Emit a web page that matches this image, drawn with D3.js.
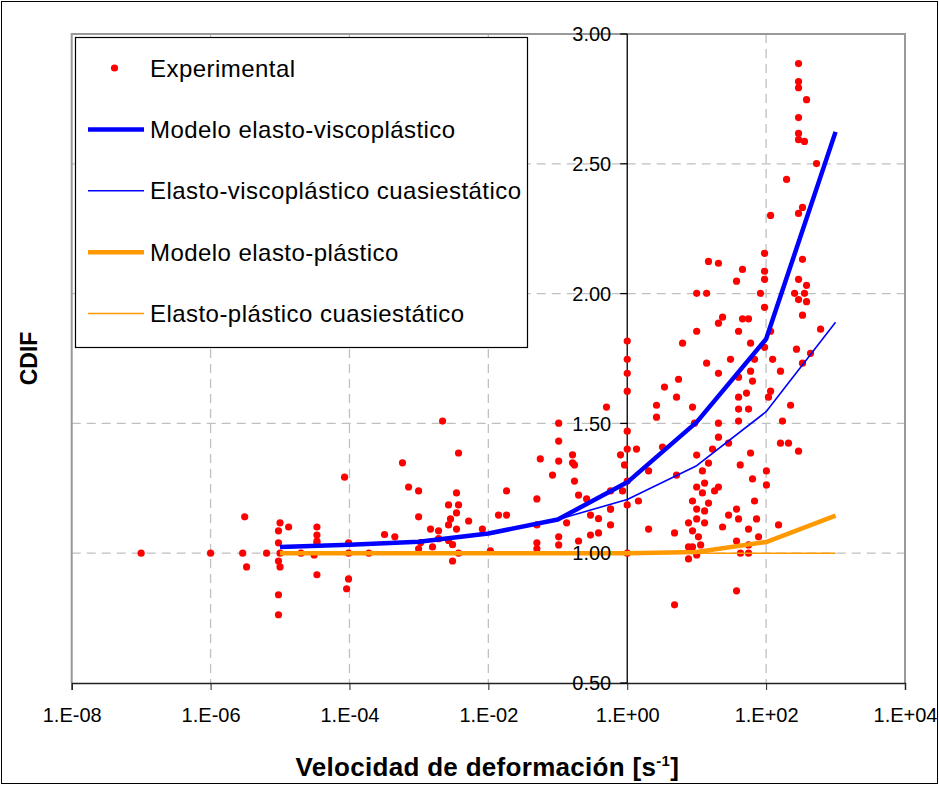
<!DOCTYPE html>
<html>
<head>
<meta charset="utf-8">
<script src="https://cdn.jsdelivr.net/npm/d3@7"></script>
<style>
  body { margin:0; background:#fff; }
  text { font-family:"Liberation Sans", Arial, sans-serif; }
</style>
</head>
<body>
<script>

// experimental points: strain rate [1/s] and CDIF
var expRate = [
  1e-7, 1e-6, 3.1e-6, 2.9e-6, 3.3e-6, 6.4e-6, 1.0e-5, 1.33e-5, 9.5e-6, 9.5e-6,
  1.0e-5, 9.5e-6, 1.0e-5, 9.5e-6, 9.5e-6, 2.0e-5, 3.4e-5, 3.4e-5, 3.4e-5, 3.4e-5,
  3.1e-5, 3.4e-5, 8.5e-5, 9.7e-5, 9.7e-5, 9.7e-5, 9.1e-5, 1.9e-4, 3.2e-4, 4.5e-4,
  5.8e-4, 7.1e-4, 9.9e-4, 9.9e-4, 9.9e-4, 1.06e-3, 1.47e-3, 1.57e-3, 1.92e-3, 1.92e-3,
  2.19e-3, 2.67e-3, 2.85e-3, 2.67e-3, 2.67e-3, 3.05e-3, 3.05e-3, 3.48e-3, 3.48e-3, 3.72e-3,
  3.48e-3, 3.72e-3, 3.72e-3, 5.2e-3, 8.2e-3, 1.07e-2, 1.40e-2, 1.83e-2, 1.83e-2, 5.0e-2,
  5.0e-2, 5.0e-2, 5.0e-2, 5.6e-2, 8.4e-2, 0.103, 0.103, 0.103, 0.103, 0.103,
  0.134, 0.163, 0.163, 0.174, 0.174, 0.199, 0.199, 0.26, 0.296, 0.296,
  0.386, 0.386, 0.503, 0.575, 0.575, 0.575, 0.80, 0.856, 0.914, 1,
  1, 1, 1, 1, 1, 1, 1, 1, 1.36, 1.45,
  2.03, 2.03, 2.64, 2.64, 3.22, 3.44, 4.8, 4.8, 5.13, 5.13,
  5.48, 6.26, 7.63, 7.63, 8.71, 7.63, 8.71, 8.71, 8.71, 9.3,
  10, 10, 10, 10, 10, 10, 13.9, 10.6, 11.4, 10,
  12.1, 12.1, 13.0, 13.0, 13.0, 13.9, 14.8, 14.8, 16.9, 18.1,
  20.6, 20.6, 20.6, 23.6, 20.6, 20.6, 23.6, 28.8, 28.8, 30.7,
  37.5, 37.5, 40.1, 40.1, 40.1, 40.1, 40.1, 40.1, 37.5, 42.7,
  37.5, 42.4, 14.8, 20.6, 45.7, 95, 95, 95, 83, 95,
  45.7, 55.8, 116, 59.7, 95, 68.1, 124, 59.7, 161, 63.7,
  52.2, 116, 108, 55.8, 225, 172, 161, 210, 293, 59.7,
  101, 63.7, 101, 68.1, 72.8, 55.8, 151, 77.8, 55.8, 55.8,
  293, 293, 293, 382, 293, 293, 293, 357, 532, 197,
  334, 293, 116, 334, 293, 382, 257, 357, 293, 382,
  334, 608, 274, 436, 334, 0.575
];
var expCDIF = [
  1.00, 1.00, 1.14, 1.00, 0.947, 1.00, 1.117, 1.101, 1.086, 1.040,
  1.00, 0.970, 0.947, 0.840, 0.763, 1.00, 1.101, 1.070, 1.047, 1.040,
  0.993, 0.917, 1.293, 1.040, 1.00, 0.901, 0.863, 1.00, 1.072, 1.063,
  1.348, 1.255, 1.240, 1.140, 1.017, 1.041, 1.093, 1.024, 1.086, 1.056,
  1.509, 1.186, 1.132, 1.109, 1.049, 1.033, 0.970, 1.232, 1.155, 1.186,
  1.093, 1.00, 1.386, 1.124, 1.093, 1.009, 1.147, 1.147, 1.240, 1.209,
  1.109, 1.040, 1.017, 1.363, 1.301, 1.501, 1.432, 1.355, 1.063, 1.032,
  1.117, 1.379, 1.348, 1.340, 1.278, 1.224, 1.047, 1.209, 1.147, 1.070,
  1.133, 1.078, 1.563, 1.240, 1.170, 1.109, 1.379, 1.240, 1.340, 1.817,
  1.747, 1.693, 1.624, 1.470, 1.401, 1.278, 1.186, 1.00, 1.401, 1.201,
  1.317, 1.093, 1.570, 1.524, 1.409, 1.640, 1.078, 0.801, 1.601, 1.301,
  1.670, 1.809, 1.117, 1.024, 1.024, 0.978, 1.563, 1.201, 1.086, 1.501,
  1.378, 1.255, 1.170, 1.132, 1.855, 2.001, 2.001, 1.063, 1.032, 0.993,
  1.317, 1.232, 1.270, 1.163, 1.117, 1.732, 1.347, 1.193, 1.401, 1.240,
  1.255, 1.693, 1.886, 1.909, 1.501, 1.447, 1.101, 1.424, 1.147, 1.747,
  2.048, 1.170, 1.855, 1.678, 1.601, 1.555, 1.509, 1.132, 1.047, 1.00,
  0.855, 1.340, 2.124, 2.117, 2.093, 2.155, 2.086, 2.055, 2.001, 1.947,
  1.903, 1.903, 1.855, 1.809, 1.793, 1.747, 1.747, 1.701, 1.701, 1.663,
  1.617, 1.624, 1.601, 1.555, 1.570, 1.509, 1.424, 1.424, 1.393, 1.386,
  1.317, 1.286, 1.263, 1.201, 1.132, 1.093, 1.109, 1.063, 1.032, 1.00,
  2.886, 2.817, 2.793, 2.747, 2.678, 2.617, 2.593, 2.586, 2.501, 2.440,
  2.332, 2.309, 2.301, 2.132, 2.055, 2.032, 2.001, 2.001, 1.977, 1.969,
  1.917, 1.863, 1.786, 1.770, 1.732, 1.170
];

// model curves
var modelRate     = [1e-5, 1e-4, 1e-3, 1e-2, 1e-1, 1, 10, 100, 1000];
var viscoModel    = [1.024, 1.033, 1.044, 1.076, 1.13, 1.273, 1.505, 1.825, 2.623];
var viscoStatic   = [1.024, 1.033, 1.044, 1.076, 1.13, 1.207, 1.337, 1.545, 1.89];
var plasticModel  = [1.00, 1.00, 1.00, 1.00, 1.00, 1.00, 1.005, 1.043, 1.145];
var plasticStatic = [1.00, 1.00, 1.00, 1.00, 1.00, 1.00, 1.00, 1.00, 1.00];

var xTicks = [1e-8, 1e-6, 1e-4, 1e-2, 1, 1e2, 1e4];
var xTickLabels = ['1.E-08','1.E-06','1.E-04','1.E-02','1.E+00','1.E+02','1.E+04'];
var yTicks = [0.5, 1.0, 1.5, 2.0, 2.5, 3.0];

var legendNames = ['Experimental','Modelo elasto-viscopl\u00e1stico','Elasto-viscopl\u00e1stico cuasiest\u00e1tico',
                   'Modelo elasto-pl\u00e1stico','Elasto-pl\u00e1stico cuasiest\u00e1tico'];

var svgwidth = 939, svgheight = 785;
var margins = { top:34, bottom:102, left:71.7, right:34 };

var xscale = d3.scaleLog()
               .domain([1e-8, 1e4])
               .range([margins.left, svgwidth - margins.right]);

var yscale = d3.scaleLinear()
               .domain([0.5, 3])
               .range([svgheight - margins.bottom, margins.top]);

var svg = d3.select('body').append('svg')
            .attr('width', svgwidth)
            .attr('height', svgheight);

// outer frame
svg.append('rect')
   .attr('x',1.5).attr('y',1.5)
   .attr('width',svgwidth-3).attr('height',svgheight-3)
   .attr('fill','#fff').attr('stroke','#000').attr('stroke-width',1);

var x0 = xscale(1e-8), x1 = xscale(1e4), y0 = yscale(0.5), y1 = yscale(3);

// gridlines
svg.selectAll('.hgrid').data(yTicks.filter(function(d){ return d > 0.5 && d < 3; })).enter()
   .append('line')
   .attr('x1',x0).attr('x2',x1)
   .attr('y1',function(d){ return yscale(d); })
   .attr('y2',function(d){ return yscale(d); })
   .attr('stroke','#c0c0c0').attr('stroke-width',1.3)
   .attr('stroke-dasharray','9,6');

svg.selectAll('.vgrid').data(xTicks.filter(function(d){ return d > 1e-8 && d < 1e4 && d != 1; })).enter()
   .append('line')
   .attr('x1',function(d){ return xscale(d); })
   .attr('x2',function(d){ return xscale(d); })
   .attr('y1',y1).attr('y2',y0)
   .attr('stroke','#c0c0c0').attr('stroke-width',1.3)
   .attr('stroke-dasharray','9,6');

// plot area border
svg.append('path')
   .attr('d','M'+x0+','+y0+'V'+y1+'H'+x1+'V'+y0)
   .attr('fill','none').attr('stroke','#999').attr('stroke-width',2);

// x axis
var xaxis = d3.axisBottom(xscale)
              .tickValues(xTicks)
              .tickSize(7)
              .tickFormat(function(d,i){ return xTickLabels[i]; });
var gx = svg.append('g')
            .attr('transform','translate(0,'+y0+')')
            .call(xaxis);
gx.select('.domain').attr('stroke','#222').attr('stroke-width',1.5);
gx.selectAll('.tick line').attr('stroke','#222');
gx.selectAll('.tick text')
  .attr('fill','#000')
  .attr('font-size',20)
  .attr('dy','1.45em')
  .style('font-family','"Liberation Sans", Arial, sans-serif');

// y axis line (crosses at 1.E+00)
var xc = xscale(1);
svg.append('line')
   .attr('x1',xc).attr('x2',xc).attr('y1',y1).attr('y2',y0)
   .attr('stroke','#000').attr('stroke-width',1.3);
svg.selectAll('.ytick').data(yTicks).enter()
   .append('line')
   .attr('x1',xc-7).attr('x2',xc)
   .attr('y1',function(d){ return yscale(d); })
   .attr('y2',function(d){ return yscale(d); })
   .attr('stroke','#000').attr('stroke-width',1.3);

// experimental points
var points = expRate.map(function(d,i){ return { r:d, c:expCDIF[i] }; });
svg.selectAll('.pt').data(points).enter()
   .append('circle')
   .attr('cx',function(d){ return xscale(d.r); })
   .attr('cy',function(d){ return yscale(d.c); })
   .attr('r',3.6)
   .attr('fill','#ff0000');

// model lines
var line = d3.line()
             .x(function(d,i){ return xscale(modelRate[i]); })
             .y(function(d){ return yscale(d); });

var series = [
  { v:viscoModel,    color:'#0000ff', w:4.5 },
  { v:viscoStatic,   color:'#0000ff', w:1.6 },
  { v:plasticModel,  color:'#ff9900', w:4.5 },
  { v:plasticStatic, color:'#ff9900', w:1.6 }
];
// draw thin ones first so thick lines sit above
[3,1,2,0].forEach(function(k){
  svg.append('path')
     .attr('d', line(series[k].v))
     .attr('fill','none')
     .attr('stroke',series[k].color)
     .attr('stroke-width',series[k].w)
     .attr('stroke-linejoin','round');
});

// y tick labels (drawn over the data like the original)
svg.selectAll('.ylabel').data(yTicks).enter()
   .append('text')
   .attr('x',xc-16)
   .attr('y',function(d){ return yscale(d); })
   .attr('dy','0.36em')
   .attr('text-anchor','end')
   .attr('font-size',20)
   .text(function(d){ return d.toFixed(2); });

// legend
var lg = svg.append('g');
lg.append('rect')
  .attr('x',75.5).attr('y',37.5).attr('width',452).attr('height',310)
  .attr('fill','#fff').attr('stroke','#000').attr('stroke-width',1.2);

var rowY = d3.scaleLinear().domain([0,4]).range([68,313.5]);
lg.append('circle')
  .attr('cx',114.5).attr('cy',rowY(0)).attr('r',3.6).attr('fill','#ff0000');
series.forEach(function(s,i){
  lg.append('line')
    .attr('x1',88).attr('x2',144)
    .attr('y1',rowY(i+1)).attr('y2',rowY(i+1))
    .attr('stroke',s.color).attr('stroke-width',s.w);
});
lg.selectAll('.lgtext').data(legendNames).enter()
  .append('text')
  .attr('x',150)
  .attr('y',function(d,i){ return rowY(i); })
  .attr('dy','0.36em')
  .attr('font-size',24)
  .attr('letter-spacing',0.45)
  .text(function(d){ return d; });

// axis titles
svg.append('text')
   .attr('x',(x0+x1)/2 - 1)
   .attr('y',776)
   .attr('text-anchor','middle')
   .attr('font-size',26)
   .attr('font-weight','bold')
   .attr('letter-spacing',0.3)
   .text('Velocidad de deformaci\u00f3n [s')
   .append('tspan').attr('dy',-10).attr('font-size',15).text('-1')
   .select(function(){ return this.parentNode; })
   .append('tspan').attr('dy',10).text(']');

svg.append('text')
   .attr('transform','translate(37,'+((y0+y1)/2)+') rotate(-90)')
   .attr('text-anchor','middle')
   .attr('font-size',23)
   .attr('font-weight','bold')
   .text('CDIF');

</script>
</body>
</html>
